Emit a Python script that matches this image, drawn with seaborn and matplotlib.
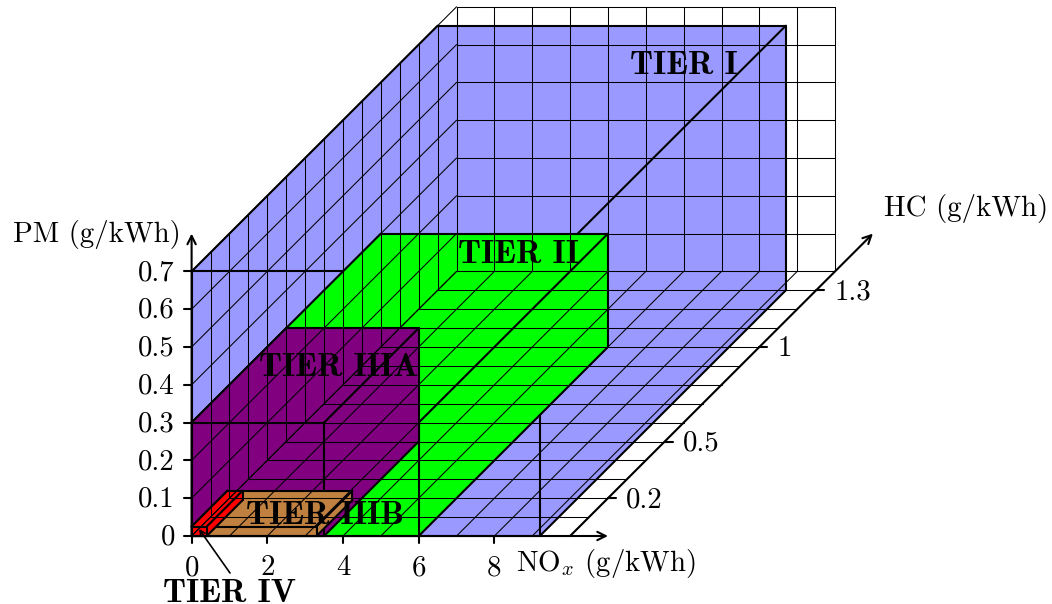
import numpy as np
import pandas as pd
import matplotlib
matplotlib.use("Agg")
import matplotlib.pyplot as plt
import seaborn as sns

# Emission limit boxes, drawn back to front
TIERS = ["TIER I", "TIER II", "TIER IIIA", "TIER IIIB", "TIER IV"]
NOX_LIMITS = [9.2, 6.0, 3.5, 3.3, 0.4]
HC_LIMITS = [1.3, 1.0, 0.5, 0.19, 0.19]
PM_LIMITS = [0.7, 0.3, 0.3, 0.025, 0.025]
TIER_COLORS = ["#9999ff", "#00ff00", "#800080", "#bf8040", "#ff0000"]

# Tick labels
NOX_TICKS = [0, 2, 4, 6, 8]
PM_TICKS = [0, 0.1, 0.2, 0.3, 0.4, 0.5, 0.6, 0.7]
HC_TICKS = [0.2, 0.5, 1, 1.3]

# Grid extent
NOX_MAX = 10
HC_MAX = 1.4
PM_MAX = 0.7

# pixel layout of the picture
W, H = 1052, 604
X0, Y0 = 191.6, 536.0
X_SCALE, Y_SCALE = 37.85, 378.0

sns.set_theme(style="white")
plt.rcParams["mathtext.fontset"] = "cm"
plt.rcParams["axes.unicode_minus"] = False
plt.rcParams["text.color"] = "black"
ROMAN = "cmr10"
BOLD = "cmb10"
FS = 20.8
FS_BOLD = 24
EDGE = 1.5


# oblique projection: going back in HC shifts right and up
def project(nox, hc, pm):
    return nox + 5 * hc, pm + 0.5 * hc


def from_px(px, py):
    return (px - X0) / X_SCALE, (Y0 - py) / Y_SCALE


def segment_frame(segments):
    rows = []
    for i, (a, b) in enumerate(segments):
        for p in (a, b):
            u, v = project(*p)
            rows.append({"seg": i, "u": u, "v": v})
    return pd.DataFrame(rows)


def draw_segments(ax, segments, lw, zorder):
    df = segment_frame(segments)
    sns.lineplot(data=df, x="u", y="v", units="seg", estimator=None, sort=False,
                 color="black", linewidth=lw, legend=False, ax=ax, zorder=zorder)


def box_edges(x, h, p):
    return [
        ((0, 0, p), (x, 0, p)), ((x, 0, 0), (x, 0, p)), ((0, 0, 0), (0, 0, p)), ((0, 0, 0), (x, 0, 0)),
        ((0, 0, p), (0, h, p)), ((x, 0, p), (x, h, p)), ((x, 0, 0), (x, h, 0)),
        ((0, h, p), (x, h, p)), ((x, h, 0), (x, h, p)),
    ]


fig = plt.figure(figsize=(W / 100, H / 100), dpi=100)
ax = fig.add_axes([0, 0, 1, 1])

# fills and outlines
zo = 2
for x, h, p, c in zip(NOX_LIMITS, HC_LIMITS, PM_LIMITS, TIER_COLORS):
    outline = [(0, 0, 0), (0, 0, p), (0, h, p), (x, h, p), (x, h, 0), (x, 0, 0)]
    uv = np.array([project(*q) for q in outline])
    ax.fill(uv[:, 0], uv[:, 1], color=c, lw=0, zorder=zo)
    draw_segments(ax, box_edges(x, h, p), EDGE, zo + 0.5)
    zo += 1

# the grid goes over the boxes
grid = []
hc_lines = np.arange(0, 15) / 10
pm_lines = np.arange(0, 8) / 10
nox_lines = np.arange(0, 11)
for n in nox_lines:
    grid.append(((n, 0, 0), (n, HC_MAX, 0)))
    grid.append(((n, HC_MAX, 0), (n, HC_MAX, PM_MAX)))
for hc in hc_lines:
    grid.append(((0, hc, 0), (NOX_MAX, hc, 0)))
    grid.append(((0, hc, 0), (0, hc, PM_MAX)))
for pm in pm_lines:
    grid.append(((0, 0, pm), (0, HC_MAX, pm)))
    grid.append(((0, HC_MAX, pm), (NOX_MAX, HC_MAX, pm)))
draw_segments(ax, grid, 0.75, 10)

# axes with arrow heads
arrow = dict(arrowstyle="->", color="black", lw=EDGE, mutation_scale=15, shrinkA=0, shrinkB=0)
for start, end in [((0, 0, 0), (11, 0, 0)), ((0, 0, 0), (0, 0, 0.8)), ((10, 0, 0), (10, 1.6, 0))]:
    ax.annotate("", xy=project(*end), xytext=project(*start), arrowprops=arrow, zorder=11)

# ticks
ticks = []
for n in NOX_TICKS:
    ticks.append(((n, 0, 0), from_px(X0 + n * X_SCALE, Y0 + 7)))
    ax.text(n, from_px(0, 568)[1], str(n), family=ROMAN, fontsize=FS, ha="center", va="center", zorder=12)
for p in PM_TICKS:
    ticks.append(((0, 0, p), from_px(X0 - 8, Y0 - p * Y_SCALE)))
    ax.text(from_px(175, 0)[0], p - 1.5 / Y_SCALE, str(p), family=ROMAN, fontsize=FS, ha="right", va="center", zorder=12)
for hc in HC_TICKS:
    u, v = project(10, hc, 0)
    ax.plot([u, u + 8 / X_SCALE], [v, v], color="black", lw=EDGE, zorder=11)
    ax.text(u + 18 / X_SCALE, v - 2 / Y_SCALE, str(hc), family=ROMAN, fontsize=FS, ha="left", va="center", zorder=12)
for start, end in ticks:
    u, v = project(*start)
    ax.plot([u, end[0]], [v, end[1]], color="black", lw=EDGE, zorder=11)

# axis titles
ax.text(*from_px(181, 235), "PM (g/kWh)", family=ROMAN, fontsize=FS, ha="right", va="center", zorder=12)
ax.text(*from_px(516, 563), r"NO$_x$ (g/kWh)", family=ROMAN, fontsize=FS, ha="left", va="center", zorder=12)
ax.text(*from_px(884, 209), "HC (g/kWh)", family=ROMAN, fontsize=FS, ha="left", va="center", zorder=12)

# tier names
label_px = [(684, 65), (518, 255), (339, 368), (325, 516)]
for name, (px, py) in zip(TIERS[:4], label_px):
    ax.text(*from_px(px, py), name, family=BOLD, fontsize=FS_BOLD, ha="center", va="center", zorder=13)
ax.text(*from_px(230, 593), TIERS[4], family=BOLD, fontsize=FS_BOLD, ha="center", va="center", zorder=13)
ax.annotate("", xy=from_px(199, 529), xytext=from_px(230, 573),
            arrowprops=dict(arrowstyle="->", color="black", lw=1.2, mutation_scale=9, shrinkA=0, shrinkB=0),
            zorder=13)

ax.set_xlim(-X0 / X_SCALE, (W - X0) / X_SCALE)
ax.set_ylim((Y0 - H) / Y_SCALE, Y0 / Y_SCALE)
ax.set_xlabel("")
ax.set_ylabel("")
ax.set_axis_off()
fig.savefig("out.png", dpi=100)
